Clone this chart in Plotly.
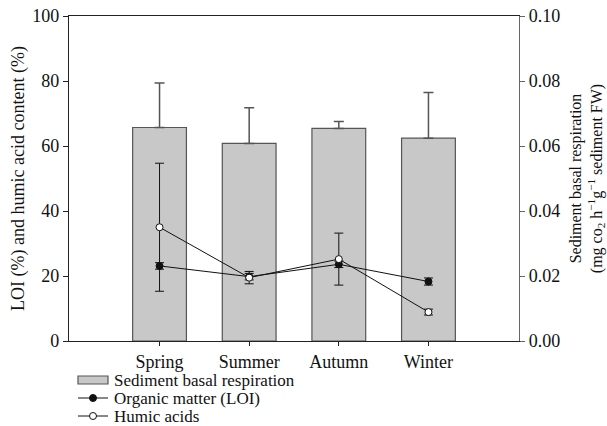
import plotly.graph_objects as go

# ---- data ----
seasons = ["Spring", "Summer", "Autumn", "Winter"]
respiration = [0.0657, 0.0608, 0.0654, 0.0624]          # right axis (bars)
respiration_err = [0.0137, 0.0110, 0.0021, 0.0141]
loi = [23.1, 19.8, 23.6, 18.3]                          # left axis
loi_err = [1.0, 1.0, 1.0, 1.1]
humic = [35.0, 19.5, 25.2, 8.9]
humic_err = [19.7, 1.9, 8.0, 0.9]

FONT = "Liberation Serif"
W, H = 607, 426
ML, MR, MT, MB = 69, 88, 16, 85
PW = W - ML - MR
PH = H - MT - MB


def px_to_paper(px, py):
    return (px - ML) / PW, (H - MB - py) / PH


fig = go.Figure()

fig.add_trace(go.Bar(
    x=seasons, y=respiration, yaxis="y", width=0.6,
    name="Sediment basal respiration",
    marker=dict(color="#c8c8c8", line=dict(color="#555555", width=1.2)),
    error_y=dict(type="data", symmetric=False, array=respiration_err,
                 arrayminus=[0] * len(respiration_err),
                 color="#555555", thickness=1.5, width=5),
    showlegend=False,
))

fig.add_trace(go.Scatter(
    x=seasons, y=loi, yaxis="y2", mode="lines+markers",
    name="Organic matter (LOI)",
    line=dict(color="#111111", width=1),
    marker=dict(symbol="circle", size=7, color="#111111",
                line=dict(color="#111111", width=1)),
    error_y=dict(type="data", array=loi_err, color="#111111",
                 thickness=1, width=4.5),
    showlegend=False,
))

fig.add_trace(go.Scatter(
    x=seasons, y=humic, yaxis="y2", mode="lines+markers",
    name="Humic acids",
    line=dict(color="#111111", width=1),
    marker=dict(symbol="circle", size=7, color="white",
                line=dict(color="#111111", width=1)),
    error_y=dict(type="data", array=humic_err, color="#111111",
                 thickness=1, width=4.5),
    showlegend=False,
))

# ---- manual legend below the plot ----
legend_rows = [
    ("Sediment basal respiration", 380, "bar"),
    ("Organic matter (LOI)", 398, "filled"),
    ("Humic acids", 416, "open"),
]
shapes = []
annotations = []
for label, py, kind in legend_rows:
    tx, ty = px_to_paper(113, py)
    annotations.append(dict(
        text=label, xref="paper", yref="paper", x=tx, y=ty,
        xanchor="left", yanchor="middle", showarrow=False,
        borderpad=0,
        font=dict(family=FONT, size=17, color="#111111"),
    ))
    x0, _ = px_to_paper(78, py)
    x1, _ = px_to_paper(108, py)
    xm, ym = px_to_paper(93, py)
    if kind == "bar":
        _, y0 = px_to_paper(78, py - 4)
        _, y1 = px_to_paper(78, py + 4)
        shapes.append(dict(type="rect", xref="paper", yref="paper",
                           x0=x0, x1=x1, y0=y0, y1=y1,
                           fillcolor="#c8c8c8",
                           line=dict(color="#555555", width=1.2)))
    else:
        shapes.append(dict(type="line", xref="paper", yref="paper",
                           x0=x0, x1=x1, y0=ym, y1=ym,
                           line=dict(color="#111111", width=1)))
        shapes.append(dict(type="circle", xref="paper", yref="paper",
                           xsizemode="pixel", ysizemode="pixel",
                           xanchor=xm, yanchor=ym,
                           x0=-3.5, x1=3.5, y0=-3.5, y1=3.5,
                           fillcolor="#111111" if kind == "filled" else "white",
                           line=dict(color="#111111", width=1)))

fig.update_layout(
    width=W, height=H,
    margin=dict(l=ML, r=MR, t=MT, b=MB, autoexpand=False),
    paper_bgcolor="white", plot_bgcolor="white",
    font=dict(family=FONT, size=18, color="#111111"),
    showlegend=False,
    shapes=shapes,
    annotations=annotations,
    xaxis=dict(
        type="category", range=[-1.01, 4.01],
        showline=True, linecolor="#222222", linewidth=1.2, mirror=True,
        ticks="outside", ticklen=4, tickcolor="#222222", tickwidth=1,
        showgrid=False, zeroline=False,
        tickfont=dict(family=FONT, size=18, color="#111111"),
    ),
    yaxis=dict(
        side="right", range=[0, 0.1],
        tickvals=[0, 0.02, 0.04, 0.06, 0.08, 0.10], tickformat=".2f",
        showline=True, linecolor="#666666", linewidth=1.2,
        ticks="outside", ticklen=5, tickcolor="#666666",
        showgrid=False, zeroline=False,
        tickfont=dict(family=FONT, size=18, color="#111111"),
        title=dict(
            text="Sediment basal respiration<br>(mg co<sub>2</sub> h<sup>\u22121</sup>g<sup>\u22121</sup> sediment FW)",
            font=dict(family=FONT, size=16, color="#111111"),
            standoff=12,
        ),
    ),
    yaxis2=dict(
        side="left", overlaying="y", range=[0, 100],
        tickvals=[0, 20, 40, 60, 80, 100],
        showline=True, linecolor="#222222", linewidth=1.2,
        ticks="outside", ticklen=5, tickcolor="#222222",
        showgrid=False, zeroline=False,
        tickfont=dict(family=FONT, size=18, color="#111111"),
        title=dict(
            text="LOI (%) and humic acid content (%)",
            font=dict(family=FONT, size=18, color="#111111"),
            standoff=2,
        ),
    ),
)

fig.write_html("out.html", config={"displayModeBar": False},
               post_script="document.body.style.margin='0';")
